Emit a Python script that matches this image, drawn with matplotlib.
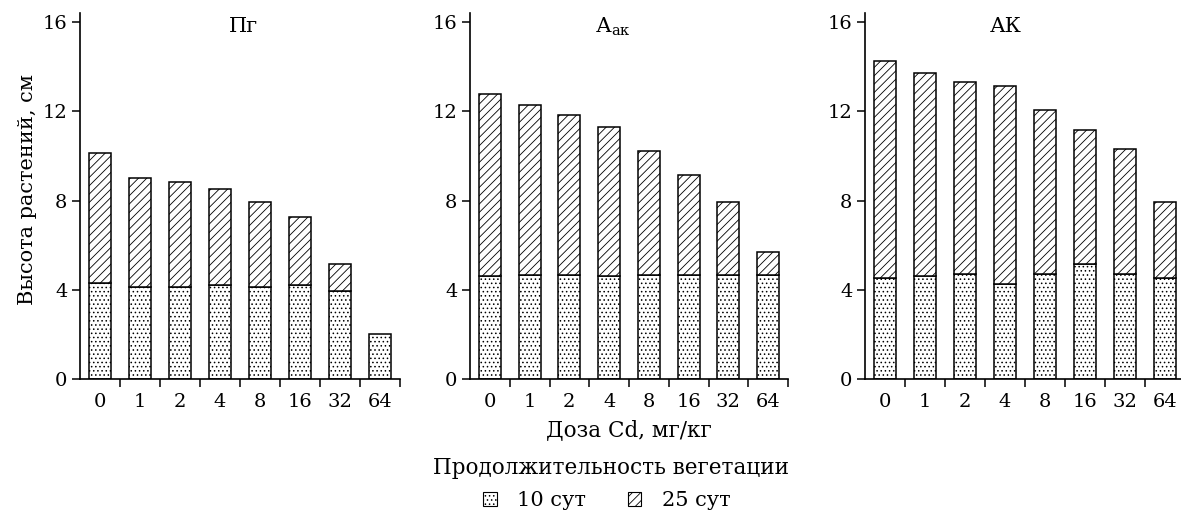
import numpy as np
import matplotlib
matplotlib.use("Agg")
import matplotlib.pyplot as plt
from matplotlib.patches import Patch

plt.rcParams['font.family'] = ['DejaVu Serif']
plt.rcParams['mathtext.fontset'] = 'dejavuserif'
plt.rcParams['hatch.linewidth'] = 0.6

doses = ['0', '1', '2', '4', '8', '16', '32', '64']
titles = ['Пг', 'А$_{\\mathregular{ак}}$', 'АК']

# высота растений, см (10 и 25 сут)
pg_10 = [4.30, 4.15, 4.15, 4.22, 4.15, 4.22, 3.96, 2.03]
pg_25 = [10.11, 9.00, 8.82, 8.54, 7.93, 7.27, 5.15, np.nan]
aak_10 = [4.61, 4.68, 4.68, 4.61, 4.68, 4.68, 4.68, 4.68]
aak_25 = [12.76, 12.30, 11.85, 11.30, 10.22, 9.15, 7.96, 5.69]
ak_10 = [4.55, 4.62, 4.71, 4.25, 4.71, 5.16, 4.71, 4.55]
ak_25 = [14.24, 13.70, 13.33, 13.15, 12.06, 11.15, 10.30, 7.93]

data = [(pg_10, pg_25), (aak_10, aak_25), (ak_10, ak_25)]

W, H = 1181, 513
fig = plt.figure(figsize=(W / 100, H / 100), dpi=100)

lefts = [80, 470, 865]
widths = [320, 318, 320]
title_x = [0.51, 0.45, 0.44]
bot = 1 - 379.3 / H
top = 1 - 13 / H

x = np.arange(len(doses))
for i in range(3):
    ax = fig.add_axes([lefts[i] / W, bot, widths[i] / W, top - bot])
    d10 = np.array(data[i][0])
    d25 = np.array(data[i][1])
    ax.bar(x, d10, width=0.55, color='white', edgecolor='black',
           linewidth=1.1, hatch='....')
    ax.bar(x, d25 - d10, bottom=d10, width=0.55, color='white',
           edgecolor='black', linewidth=1.1, hatch='////')
    ax.set_xlim(-0.5, 7.5)
    ax.set_ylim(0, 16.4)
    ax.set_yticks([0, 4, 8, 12, 16])
    ax.set_xticks(x + 0.5)
    ax.set_xticklabels([])
    ax.set_xticks(x, minor=True)
    ax.set_xticklabels(doses, minor=True)
    ax.tick_params(axis='x', which='minor', length=0, labelsize=14, pad=10)
    ax.tick_params(axis='x', which='major', length=6, width=1.1)
    ax.tick_params(axis='y', length=6, width=1.1, labelsize=14, pad=3)
    for s in ['top', 'right']:
        ax.spines[s].set_visible(False)
    for s in ['left', 'bottom']:
        ax.spines[s].set_linewidth(1.2)
    ax.text(title_x[i], 0.962, titles[i], transform=ax.transAxes,
            ha='center', va='center', fontsize=15)
    if i == 0:
        ax.set_ylabel('Высота растений, см', fontsize=15)
        ax.yaxis.set_label_coords(-0.135, 0.517)
    if i == 1:
        ax.set_xlabel('Доза Cd, мг/кг', fontsize=15.5, labelpad=6)

fig.text(611 / W, 1 - 468 / H, 'Продолжительность вегетации',
         ha='center', va='center', fontsize=15.5)
handles = [Patch(facecolor='white', edgecolor='black', hatch='....', linewidth=0.8),
           Patch(facecolor='white', edgecolor='black', hatch='////', linewidth=0.8)]
fig.legend(handles, ['10 сут', '25 сут'], ncol=2, frameon=False,
           loc='center', bbox_to_anchor=(607 / W, 1 - 501 / H),
           fontsize=15, handlelength=0.63, handleheight=0.63,
           handletextpad=1.0, columnspacing=2.0, borderpad=0)

fig.savefig('out.png', dpi=100)
